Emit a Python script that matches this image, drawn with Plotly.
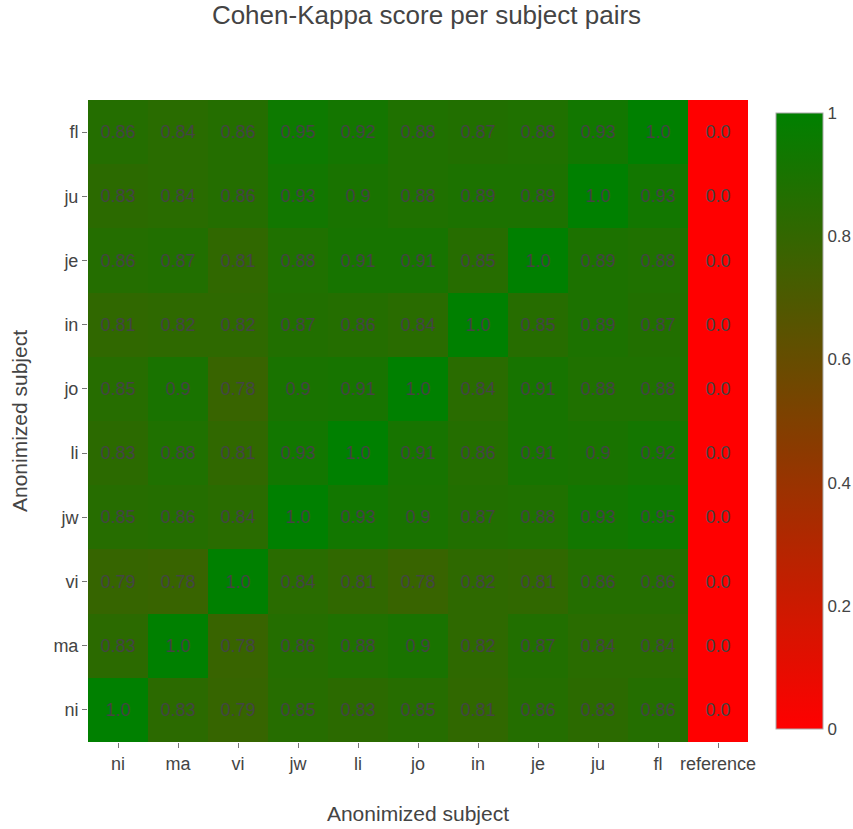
import plotly.graph_objects as go

# Subjects on each axis; the x axis has an extra "reference" column
subjects = ["ni", "ma", "vi", "jw", "li", "jo", "in", "je", "ju", "fl"]
x_labels = subjects + ["reference"]

# Cohen-Kappa scores, one row per subject (bottom to top)
kappa_ni = [1.0, 0.83, 0.79, 0.85, 0.83, 0.85, 0.81, 0.86, 0.83, 0.86, 0.0]
kappa_ma = [0.83, 1.0, 0.78, 0.86, 0.88, 0.9, 0.82, 0.87, 0.84, 0.84, 0.0]
kappa_vi = [0.79, 0.78, 1.0, 0.84, 0.81, 0.78, 0.82, 0.81, 0.86, 0.86, 0.0]
kappa_jw = [0.85, 0.86, 0.84, 1.0, 0.93, 0.9, 0.87, 0.88, 0.93, 0.95, 0.0]
kappa_li = [0.83, 0.88, 0.81, 0.93, 1.0, 0.91, 0.86, 0.91, 0.9, 0.92, 0.0]
kappa_jo = [0.85, 0.9, 0.78, 0.9, 0.91, 1.0, 0.84, 0.91, 0.88, 0.88, 0.0]
kappa_in = [0.81, 0.82, 0.82, 0.87, 0.86, 0.84, 1.0, 0.85, 0.89, 0.87, 0.0]
kappa_je = [0.86, 0.87, 0.81, 0.88, 0.91, 0.91, 0.85, 1.0, 0.89, 0.88, 0.0]
kappa_ju = [0.83, 0.84, 0.86, 0.93, 0.9, 0.88, 0.89, 0.89, 1.0, 0.93, 0.0]
kappa_fl = [0.86, 0.84, 0.86, 0.95, 0.92, 0.88, 0.87, 0.88, 0.93, 1.0, 0.0]

z = [kappa_ni, kappa_ma, kappa_vi, kappa_jw, kappa_li,
     kappa_jo, kappa_in, kappa_je, kappa_ju, kappa_fl]
text = [[str(v) for v in row] for row in z]

fig = go.Figure(
    go.Heatmap(
        z=z,
        x=x_labels,
        y=subjects,
        text=text,
        texttemplate="%{text}",
        textfont=dict(size=18, color="#444444", family="Arial"),
        colorscale=[[0, "rgb(255,0,0)"], [1, "rgb(0,128,0)"]],
        zmin=0,
        zmax=1,
        colorbar=dict(
            x=1.027,
            xanchor="left",
            xpad=10,
            y=0.5,
            len=0.99,
            thickness=47,
            outlinewidth=1,
            outlinecolor="#aaaaaa",
            tickvals=[0, 0.2, 0.4, 0.6, 0.8, 1],
            ticktext=["0", "0.2", "0.4", "0.6", "0.8", "1"],
            ticks="",
            tickfont=dict(size=17, color="#444444"),
        ),
    )
)

fig.update_layout(
    width=853,
    height=829,
    margin=dict(l=88, r=105, t=100, b=87, autoexpand=False),
    font=dict(family="Arial", color="#444444"),
    title=dict(text="Cohen-Kappa score per subject pairs", x=0.5, y=0.982,
               xanchor="center", yanchor="middle", font=dict(size=26)),
    plot_bgcolor="white",
    paper_bgcolor="white",
    xaxis=dict(title=dict(text="Anonimized subject", font=dict(size=21),
                          standoff=33),
               ticks="outside", ticklen=5, tickcolor="#777777",
               tickfont=dict(size=18), showgrid=False, zeroline=False,
               automargin=False),
    yaxis=dict(title=dict(text="Anonimized subject", font=dict(size=21),
                          standoff=20),
               ticks="outside", ticklen=5, tickcolor="#777777",
               tickfont=dict(size=18), showgrid=False, zeroline=False,
               automargin=False),
)

fig.write_html("out.html")
